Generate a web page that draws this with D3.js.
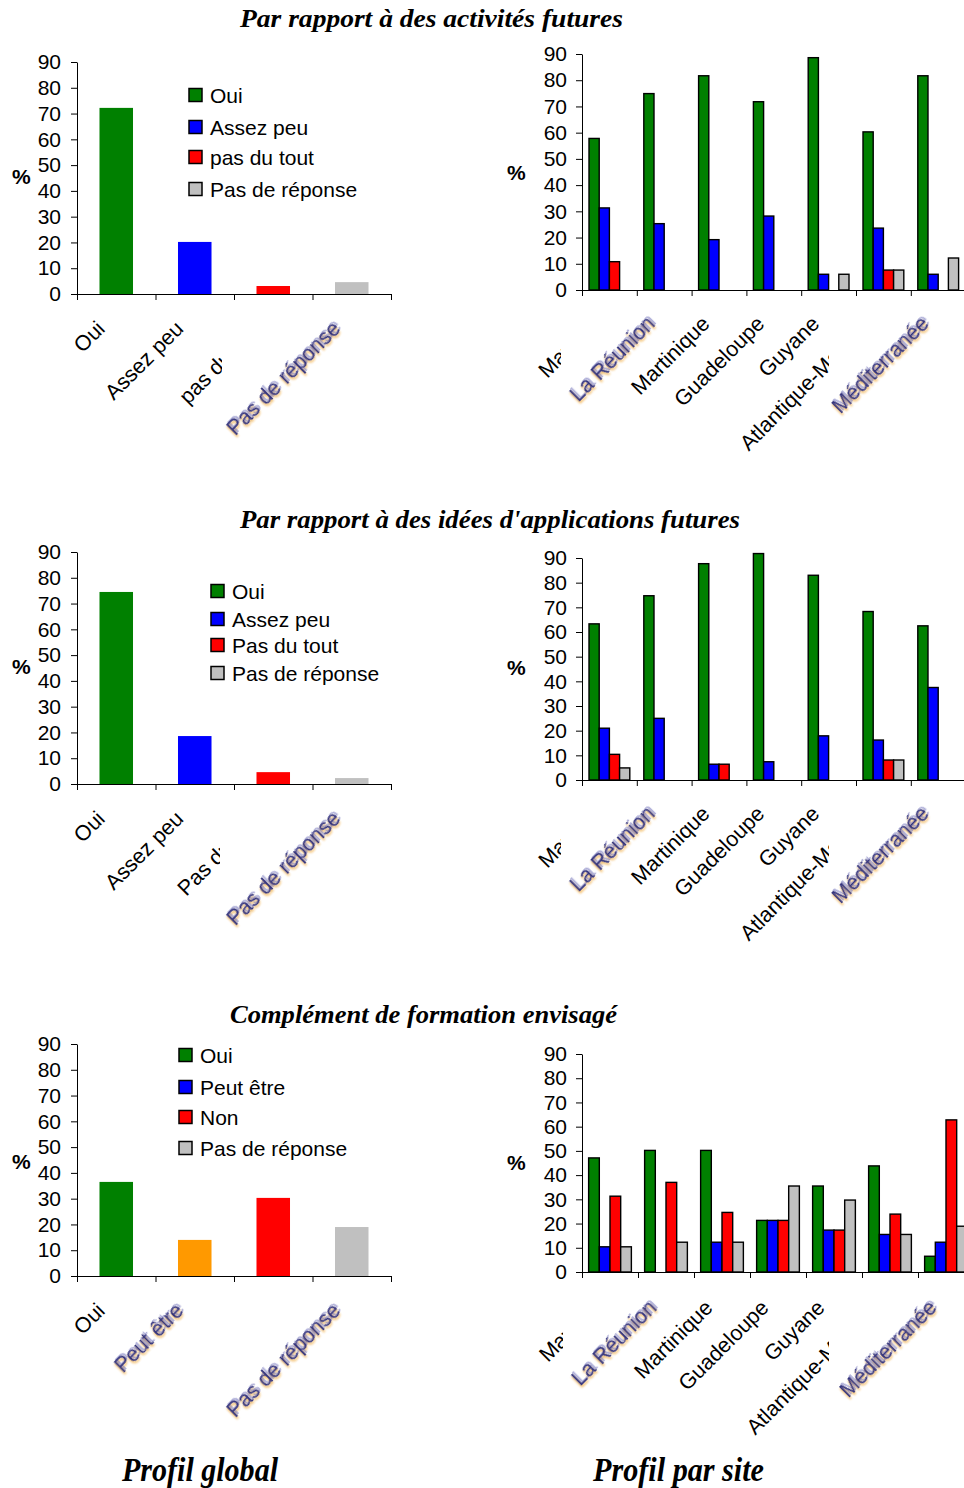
<!DOCTYPE html>
<html><head><meta charset="utf-8">
<script src="https://cdn.jsdelivr.net/npm/d3@7"></script>
<style>body{margin:0;background:#fff} svg{display:block}</style>
</head><body>
<svg id="chart" width="964" height="1488"></svg>
<script>
// ---------------- DATA ----------------
const yTicks = [0, 10, 20, 30, 40, 50, 60, 70, 80, 90];
const sites = ["Mayotte", "La Réunion", "Martinique", "Guadeloupe", "Guyane", "Atlantique-Manche", "Méditerranée"];

// 1. Par rapport à des activités futures
const act_globalCats = ["Oui", "Assez peu", "pas du tout", "Pas de réponse"];
const act_globalVals = [72.2, 20.2, 3.1, 4.6];
const act_series = ["Oui", "Assez peu", "pas du tout", "Pas de réponse"];
const act_oui   = [57.8, 74.9, 81.7, 71.8, 88.6, 60.3, 81.7];
const act_assez = [31.3, 25.3, 19.2, 28.2, 6.0, 23.6, 6.0];
const act_pas   = [10.8, 0, 0, 0, 0, 7.6, 0];
const act_nr    = [0, 0, 0, 0, 6.0, 7.6, 12.2];

// 2. Par rapport à des idées d'applications futures
const app_globalCats = ["Oui", "Assez peu", "Pas du tout", "Pas de réponse"];
const app_globalVals = [74.5, 18.6, 4.6, 2.3];
const app_series = ["Oui", "Assez peu", "Pas du tout", "Pas de réponse"];
const app_oui   = [63.3, 74.7, 87.7, 91.8, 83.0, 68.3, 62.5];
const app_assez = [21.0, 25.0, 6.4, 7.4, 17.9, 16.2, 37.5];
const app_pas   = [10.4, 0, 6.4, 0, 0, 8.1, 0];
const app_nr    = [4.9, 0, 0, 0, 0, 8.1, 0];

// 3. Complément de formation envisagé
const form_globalCats = ["Oui", "Peut être", "Non", "Pas de réponse"];
const form_globalVals = [36.5, 14.0, 30.3, 19.0];
const form_series = ["Oui", "Peut être", "Non", "Pas de réponse"];
const form_oui  = [47.1, 50.2, 50.2, 21.3, 35.5, 43.8, 6.5];
const form_peut = [10.4, 0, 12.3, 21.3, 17.3, 15.5, 12.3];
const form_non  = [31.3, 37.0, 24.6, 21.3, 17.3, 23.9, 62.8];
const form_nr   = [10.4, 12.3, 12.3, 35.5, 29.7, 15.5, 18.9];

const titles = ["Par rapport à des activités futures", "Par rapport à des idées d'applications futures", "Complément de formation envisagé"];
const footers = ["Profil global", "Profil par site"];

// ---------------- STYLE ----------------
const SANS = "'Liberation Sans', Arial, sans-serif";
const SERIF = "'Liberation Serif', 'Times New Roman', serif";
const GREEN = "#008000", BLUE = "#0000ff", RED = "#ff0000", GRAY = "#c0c0c0", ORANGE = "#ff9900";
const seriesColors = [GREEN, BLUE, RED, GRAY];
const LBL = 21.5;

const svg = d3.select("#chart");
const defs = svg.append("defs");
const f1 = defs.append("filter").attr("id", "soft").attr("x", "-20%").attr("y", "-50%").attr("width", "140%").attr("height", "200%");
f1.append("feGaussianBlur").attr("stdDeviation", 0.55);
const f2 = defs.append("filter").attr("id", "soft2").attr("x", "-20%").attr("y", "-50%").attr("width", "140%").attr("height", "200%");
f2.append("feGaussianBlur").attr("stdDeviation", 1.1);

let clipId = 0;
function rotLabel(parent, text, ax, ay, mode, cut) {
  let g = parent.append("g");
  if (mode === "clip") {
    const id = "clip" + (clipId++);
    defs.append("clipPath").attr("id", id).attr("clipPathUnits", "userSpaceOnUse")
      .append("rect").attr("x", 0).attr("y", 0).attr("width", cut).attr("height", 1488);
    g.attr("clip-path", `url(#${id})`);
  }
  const t = `translate(${ax},${ay}) rotate(-45)`;
  const base = (sel) => sel.attr("transform", t).attr("text-anchor", "end")
      .attr("font-family", SANS).attr("font-size", LBL).text(text);
  if (mode === "blur") {
    g.append("text").call(base).attr("fill", "#f0a838").attr("opacity", 0.85)
      .attr("filter", "url(#soft2)").attr("x", -1).attr("y", 1.6);
    g.append("text").call(base).attr("fill", "#6d6db8").attr("opacity", 0.55)
      .attr("filter", "url(#soft)").attr("x", 2.5).attr("y", -0.6);
    g.append("text").call(base).attr("fill", "#34347e").attr("filter", "url(#soft)");
  } else {
    g.append("text").call(base).attr("fill", "#000");
  }
}

function styleAxis(g) {
  g.attr("font-family", SANS).attr("font-size", 21);
  g.selectAll("path, line").attr("stroke", "#000").attr("stroke-width", 1);
  g.selectAll("text").attr("fill", "#000");
}

function percentLabel(x, y) {
  svg.append("text").attr("x", x).attr("y", y).attr("dy", "0.35em")
    .attr("font-family", SANS).attr("font-weight", "bold").attr("font-size", 21).text("%");
}

// ---------- left ("Profil global") charts ----------
function leftChart(cfg) {
  const y = d3.scaleLinear().domain([0, 90]).range([cfg.y0, cfg.y90]);
  const x = d3.scaleBand().domain(cfg.cats).range([77, 391]).paddingInner(0.573).paddingOuter(0.2865);
  const xb = d3.scaleLinear().domain([0, cfg.cats.length]).range([77, 391]);

  svg.append("g").selectAll("rect").data(cfg.cats).join("rect")
    .attr("x", d => x(d)).attr("width", x.bandwidth())
    .attr("y", (d, i) => y(cfg.vals[i])).attr("height", (d, i) => y(0) - y(cfg.vals[i]))
    .attr("fill", (d, i) => cfg.colors[i]);

  svg.append("g").attr("transform", "translate(77,0)")
    .call(d3.axisLeft(y).tickValues(yTicks).tickSize(6).tickPadding(10).tickSizeOuter(0)).call(styleAxis);
  svg.append("g").attr("transform", `translate(0,${cfg.y0})`)
    .call(d3.axisBottom(xb).tickValues(d3.range(cfg.cats.length + 1)).tickSize(6).tickFormat("").tickSizeOuter(0))
    .call(styleAxis);

  const lg = svg.append("g");
  cfg.cats.forEach((c, i) => {
    const cx = x(c) + x.bandwidth() / 2;
    const m = cfg.labelModes[i];
    if (m === "none") return;
    rotLabel(lg, c, cx - 10, cfg.y0 + 36, m, cfg.cut);
  });

  percentLabel(12, cfg.pct);

  const leg = svg.append("g");
  cfg.legend.forEach((s, i) => {
    const ry = cfg.legY[i];
    leg.append("rect").attr("x", cfg.legX).attr("y", ry - 6.5).attr("width", 13).attr("height", 13)
      .attr("fill", cfg.legColors[i]).attr("stroke", "#000").attr("stroke-width", 1.5);
    leg.append("text").attr("x", cfg.legX + 21).attr("y", ry).attr("dy", "0.36em")
      .attr("font-family", SANS).attr("font-size", 21).text(s);
  });
}

// ---------- right ("Profil par site") charts ----------
function rightChart(cfg) {
  const y = d3.scaleLinear().domain([0, 90]).range([cfg.y0, cfg.y90]);
  const x0 = d3.scaleBand().domain(sites).range([582, cfg.xEnd]).paddingInner(0).paddingOuter(0);
  const x1 = d3.scaleBand().domain(cfg.series.map((s, i) => i)).range([0, x0.bandwidth()]).paddingInner(0).paddingOuter(cfg.pad);
  const xb = d3.scaleLinear().domain([0, sites.length]).range([582, cfg.xEnd]);

  const rows = [];
  sites.forEach((s, si) => cfg.data.forEach((arr, k) => {
    if (arr[si] > 0) rows.push({ site: s, k, v: arr[si] });
  }));
  svg.append("g").selectAll("rect").data(rows).join("rect")
    .attr("x", d => x0(d.site) + x1(d.k)).attr("width", x1.bandwidth())
    .attr("y", d => y(d.v)).attr("height", d => y(0) - y(d.v))
    .attr("fill", d => seriesColors[d.k]).attr("stroke", "#000").attr("stroke-width", 1.4);

  svg.append("g").attr("transform", "translate(582,0)")
    .call(d3.axisLeft(y).tickValues(yTicks).tickSize(6).tickPadding(9).tickSizeOuter(0)).call(styleAxis);
  svg.append("g").attr("transform", `translate(0,${cfg.y0})`)
    .call(d3.axisBottom(xb).tickValues(d3.range(sites.length + 1)).tickSize(6).tickFormat("").tickSizeOuter(0))
    .call(styleAxis);

  const lg = svg.append("g");
  const modes = ["clip", "blur", "plain", "plain", "plain", "clip", "blur"];
  const cuts = [cfg.cutMa, 0, 0, 0, 0, 829, 0];
  sites.forEach((s, i) => {
    const cx = x0(s) + x0.bandwidth() / 2;
    rotLabel(lg, s, cx - 8, cfg.y0 + cfg.lblDy, modes[i], cuts[i]);
  });

  percentLabel(507, cfg.pct);
}

// ---------- titles ----------
const titleSpecs = [
  { x: 240, y: 27, w: 383 },
  { x: 240, y: 528, w: 500 },
  { x: 230, y: 1023, w: 387 }
];
titles.forEach((t, i) => {
  svg.append("text").attr("x", titleSpecs[i].x).attr("y", titleSpecs[i].y)
    .attr("font-family", SERIF).attr("font-weight", "bold").attr("font-style", "italic")
    .attr("font-size", 26).attr("textLength", titleSpecs[i].w).attr("lengthAdjust", "spacingAndGlyphs").text(t);
});
const footSpecs = [{ x: 122, w: 156 }, { x: 593, w: 171 }];
footers.forEach((t, i) => {
  svg.append("text").attr("x", footSpecs[i].x).attr("y", 1481)
    .attr("font-family", SERIF).attr("font-weight", "bold").attr("font-style", "italic")
    .attr("font-size", 33).attr("textLength", footSpecs[i].w).attr("lengthAdjust", "spacingAndGlyphs").text(t);
});

// ---------- build ----------
leftChart({ cats: act_globalCats, vals: act_globalVals, colors: [GREEN, BLUE, RED, GRAY],
  y0: 294, y90: 62, labelModes: ["plain", "plain", "clip", "blur"], cut: 222, pct: 177,
  legend: act_series, legColors: seriesColors, legX: 189, legY: [95, 127, 157, 189] });
rightChart({ series: act_series, data: [act_oui, act_assez, act_pas, act_nr],
  y0: 290, y90: 54, xEnd: 965.6, pad: 0.686, lblDy: 35, cutMa: 561, pct: 173 });

leftChart({ cats: app_globalCats, vals: app_globalVals, colors: [GREEN, BLUE, RED, GRAY],
  y0: 784, y90: 552, labelModes: ["plain", "plain", "clip", "blur"], cut: 220, pct: 667,
  legend: app_series, legColors: seriesColors, legX: 211, legY: [591, 619, 645, 673] });
rightChart({ series: app_series, data: [app_oui, app_assez, app_pas, app_nr],
  y0: 780, y90: 558, xEnd: 965.6, pad: 0.686, lblDy: 35, cutMa: 561, pct: 668 });

leftChart({ cats: form_globalCats, vals: form_globalVals, colors: [GREEN, ORANGE, RED, GRAY],
  y0: 1276, y90: 1044, labelModes: ["plain", "blur", "none", "blur"], cut: 0, pct: 1162,
  legend: form_series, legColors: seriesColors, legX: 179, legY: [1055, 1087, 1117, 1148] });
rightChart({ series: form_series, data: [form_oui, form_peut, form_non, form_nr],
  y0: 1272, y90: 1054, xEnd: 974, pad: 0.62, lblDy: 37, cutMa: 563, pct: 1163 });
</script>
</body></html>
